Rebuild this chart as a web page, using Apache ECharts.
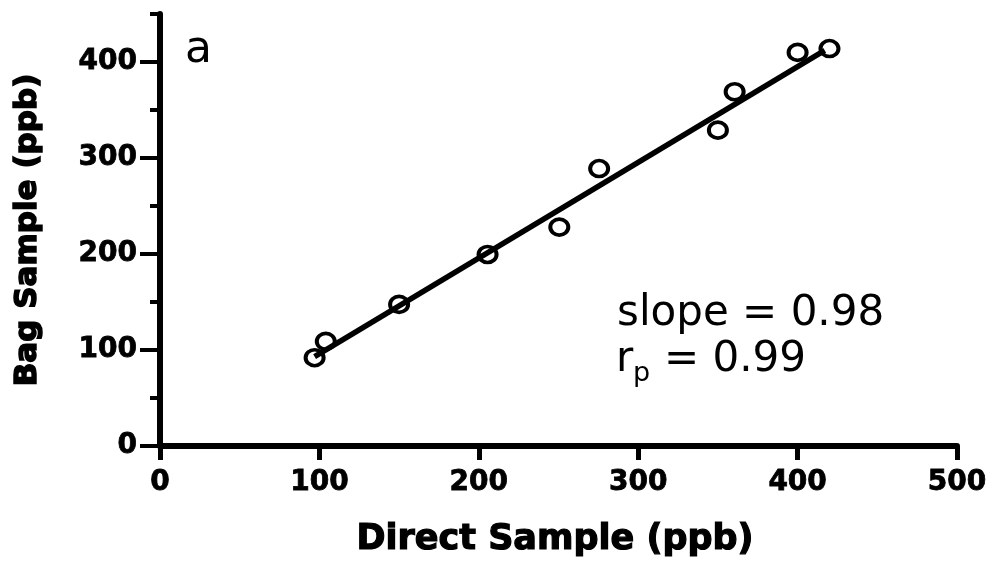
<!DOCTYPE html>
<html>
<head>
<meta charset="utf-8">
<script src="https://cdn.jsdelivr.net/npm/echarts@6/dist/echarts.min.js"></script>
<style>
html,body{margin:0;padding:0;background:#fff;}
#chart{width:994px;height:566px;}
</style>
</head>
<body>
<div id="chart"></div>
<script>
// Data
const directSample = [97, 104, 150, 205.5, 250.5, 275.5, 350, 360.5, 400, 420];
const bagSample    = [92, 109, 147.5, 199.5, 228, 289, 329, 369, 410, 414];
const fitX = [97, 417];
const fitY = [93, 412];
const xTicks = [0, 100, 200, 300, 400, 500];
const yTicks = [0, 100, 200, 300, 400];
const xTitle = 'Direct Sample (ppb)';
const yTitle = 'Bag Sample (ppb)';
const panelLabel = 'a';
const slopeText = 'slope = 0.98';
const rpValue = '0.99';

const points = directSample.map((x, i) => [x, bagSample[i]]);
const fitLine = fitX.map((x, i) => [x, fitY[i]]);

const chart = echarts.init(document.getElementById('chart'), null, {renderer: 'canvas'});
const boldFont = 'DejaVu Sans';
const labelStyle = {color: '#000', fontFamily: boldFont, fontWeight: 'bold', fontSize: 28, textBorderColor: '#000', textBorderWidth: 0.8};
chart.setOption({
  animation: false,
  backgroundColor: '#fff',
  grid: {left: 160, right: 37, top: 14, bottom: 120, containLabel: false},
  xAxis: {
    type: 'value', min: 0, max: 500, interval: 100,
    axisLine: {lineStyle: {color: '#000', width: 6}},
    axisTick: {length: 14, lineStyle: {color: '#000', width: 5}, customValues: xTicks},
    axisLabel: Object.assign({margin: 23, customValues: xTicks}, labelStyle),
    splitLine: {show: false}
  },
  yAxis: [
    {
      type: 'value', min: 0, max: 450, interval: 50,
      axisLine: {lineStyle: {color: '#000', width: 6}},
      axisTick: {length: 10, lineStyle: {color: '#000', width: 4}},
      axisLabel: {show: false},
      splitLine: {show: false}
    },
    {
      type: 'value', min: 0, max: 450, interval: 50, position: 'left', offset: 0,
      axisLine: {show: false},
      axisTick: {length: 20, lineStyle: {color: '#000', width: 4}, customValues: yTicks},
      axisLabel: Object.assign({margin: 23, customValues: yTicks}, labelStyle),
      splitLine: {show: false}
    }
  ],
  series: [
    {
      type: 'line', data: fitLine, yAxisIndex: 0, symbol: 'none',
      lineStyle: {color: '#000', width: 5.5}, z: 2
    },
    {
      type: 'scatter', data: points, yAxisIndex: 0, symbol: 'circle', symbolSize: [18, 16],
      itemStyle: {color: 'rgba(0,0,0,0)', borderColor: '#000', borderWidth: 3.8, opacity: 1}, z: 3
    }
  ],
  graphic: [
    {type: 'text', left: 185, top: 29, style: {text: panelLabel, font: 'normal 44px "DejaVu Sans"', fill: '#000'}},
    {type: 'text', x: 555, y: 540, style: {text: xTitle, font: 'bold 35px "DejaVu Sans"', fill: '#000', stroke: '#000', lineWidth: 1.2, align: 'center', verticalAlign: 'middle'}},
    {type: 'text', x: 28, y: 230, rotation: Math.PI / 2, style: {text: yTitle, font: 'bold 31px "DejaVu Sans"', fill: '#000', stroke: '#000', lineWidth: 1.5, align: 'center', verticalAlign: 'middle'}},
    {type: 'text', x: 617, y: 314, style: {text: slopeText, font: 'normal 42px "DejaVu Sans"', fill: '#000', verticalAlign: 'middle'}},
    {type: 'text', x: 616, y: 360, style: {text: 'r', font: 'normal 42px "DejaVu Sans"', fill: '#000', verticalAlign: 'middle'}},
    {type: 'text', x: 633, y: 374, style: {text: 'p', font: 'normal 27px "DejaVu Sans"', fill: '#000', verticalAlign: 'middle'}},
    {type: 'text', x: 664, y: 360, style: {text: '= ' + rpValue, font: 'normal 42px "DejaVu Sans"', fill: '#000', verticalAlign: 'middle'}}
  ]
});
</script>
</body>
</html>
